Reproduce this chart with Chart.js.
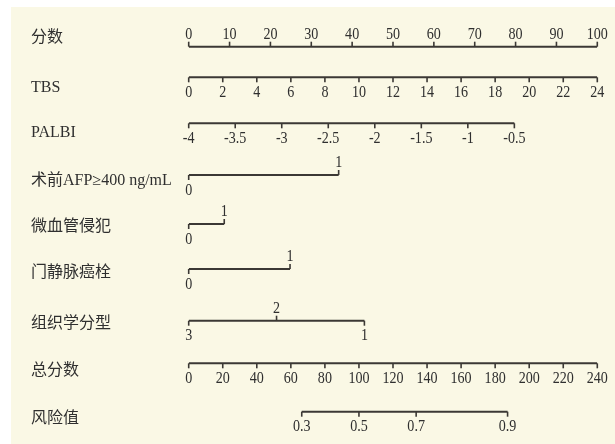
<!DOCTYPE html>
<html>
<head>
<meta charset="utf-8">
<script src="https://cdn.jsdelivr.net/npm/chart.js@4/dist/chart.umd.min.js"></script>
<style>
  html, body { margin: 0; padding: 0; background: #fff; }
  canvas { display: block; }
</style>
</head>
<body>
<canvas id="nomogram" width="615" height="444"></canvas>
<script>
// row names, top to bottom
const rowLabels = ['分数', 'TBS', 'PALBI', '术前AFP≥400 ng/mL', '微血管侵犯', '门静脉癌栓', '组织学分型', '总分数', '风险值'];

// points scale
const pointTicks = [0, 10, 20, 30, 40, 50, 60, 70, 80, 90, 100];

// continuous predictors
const tbsTicks = [0, 2, 4, 6, 8, 10, 12, 14, 16, 18, 20, 22, 24];
const palbiTicks = [-4, -3.5, -3, -2.5, -2, -1.5, -1, -0.5];
const palbiTickLabels = ['-4', '-3.5', '-3', '-2.5', '-2', '-1.5', '-1', '-0.5'];
const palbiMaxPoints = 79.7; // points given to PALBI = -0.5

// categorical predictors (label -> points)
const afpLabels = ['0', '1'];
const afpPoints = [0, 36.7];
const mviLabels = ['0', '1'];
const mviPoints = [0, 8.7];
const pvttLabels = ['0', '1'];
const pvttPoints = [0, 24.8];
const histLabels = ['3', '2', '1'];
const histPoints = [0, 21.5, 43.0];

// total points and risk
const totalTicks = [0, 20, 40, 60, 80, 100, 120, 140, 160, 180, 200, 220, 240];
const riskLabels = ['0.3', '0.5', '0.7', '0.9'];
const riskTotalPoints = [66.4, 100, 133.6, 187.3];

// layout (pixels on the y scale)
const rowLineY = [46.7, 77.3, 123.3, 175, 224, 269, 320.7, 363.3, 411.7];
const rowTextY = [38, 88, 132.5, 181, 227, 273, 324, 371, 419];

const LINE = '#3b3834';
const TEXT = '#2f2f2f';
const NUM_FONT = '16px "Liberation Serif", "Times New Roman", serif';
const LAB_FONT = '16px "Liberation Serif", "Noto Sans CJK SC", serif';
const NUM_SQUEEZE = 0.88;

// each row: scale id, tick values, tick texts, directions (1 down, -1 up)
const rows = [
  { axis: 'x', vals: pointTicks, texts: pointTicks.map(String), dirs: pointTicks.map(() => -1) },
  { axis: 'xTBS', vals: tbsTicks, texts: tbsTicks.map(String), dirs: tbsTicks.map(() => 1) },
  { axis: 'xPAL', vals: palbiTicks, texts: palbiTickLabels, dirs: palbiTicks.map(() => 1) },
  { axis: 'x', vals: afpPoints, texts: afpLabels, dirs: [1, -1] },
  { axis: 'x', vals: mviPoints, texts: mviLabels, dirs: [1, -1] },
  { axis: 'x', vals: pvttPoints, texts: pvttLabels, dirs: [1, -1] },
  { axis: 'x', vals: histPoints, texts: histLabels, dirs: [1, -1, 1] },
  { axis: 'xTot', vals: totalTicks, texts: totalTicks.map(String), dirs: totalTicks.map(() => 1) },
  { axis: 'xTot', vals: riskTotalPoints, texts: riskLabels, dirs: riskLabels.map(() => 1) }
];

const datasets = rows.map((r, i) => ({
  label: rowLabels[i],
  xAxisID: r.axis,
  yAxisID: 'y',
  data: [
    { x: Math.min(...r.vals), y: rowLineY[i] },
    { x: Math.max(...r.vals), y: rowLineY[i] }
  ],
  borderColor: LINE,
  borderWidth: 2,
  pointRadius: 0,
  borderCapStyle: 'butt',
  fill: false
}));

const nomogramPlugin = {
  id: 'nomogram',
  beforeDraw(chart) {
    const ctx = chart.ctx;
    ctx.save();
    ctx.fillStyle = '#faf8e5';
    ctx.fillRect(11, 7, chart.width - 11, chart.height - 7);
    ctx.restore();
  },
  afterDatasetsDraw(chart) {
    const ctx = chart.ctx;
    const ys = chart.scales.y;
    ctx.save();
    // row names
    ctx.fillStyle = TEXT;
    ctx.font = LAB_FONT;
    ctx.textAlign = 'left';
    ctx.textBaseline = 'middle';
    rowLabels.forEach((t, i) => ctx.fillText(t, 31, ys.getPixelForValue(rowTextY[i])));
    // ticks and tick labels
    rows.forEach((r, i) => {
      const sc = chart.scales[r.axis];
      const y = ys.getPixelForValue(rowLineY[i]);
      r.vals.forEach((v, j) => {
        const x = sc.getPixelForValue(v);
        const d = r.dirs[j];
        ctx.strokeStyle = LINE;
        ctx.lineWidth = 1.6;
        ctx.beginPath();
        ctx.moveTo(x, y);
        ctx.lineTo(x, y + d * 5);
        ctx.stroke();
        ctx.save();
        ctx.font = NUM_FONT;
        ctx.textAlign = 'center';
        ctx.textBaseline = 'alphabetic';
        ctx.translate(x, d > 0 ? y + 19.5 : y - 8);
        ctx.scale(NUM_SQUEEZE, 1);
        ctx.fillText(r.texts[j], 0, 0);
        ctx.restore();
      });
    });
    ctx.restore();
  }
};

const hidden = { type: 'linear', display: false };

new Chart(document.getElementById('nomogram'), {
  type: 'line',
  data: { datasets },
  options: {
    responsive: false,
    animation: false,
    layout: { padding: { left: 188.7, right: 17.7, top: 0, bottom: 0 } },
    plugins: { legend: { display: false }, tooltip: { enabled: false } },
    scales: {
      x: { ...hidden, min: 0, max: 100 },
      xTBS: { ...hidden, axis: 'x', min: 0, max: 24 },
      xPAL: { ...hidden, axis: 'x', min: -4, max: -4 + 3.5 * 100 / palbiMaxPoints },
      xTot: { ...hidden, axis: 'x', min: 0, max: 240 },
      y: { ...hidden, min: 0, max: 444, reverse: true }
    }
  },
  plugins: [nomogramPlugin]
});
</script>
</body>
</html>
